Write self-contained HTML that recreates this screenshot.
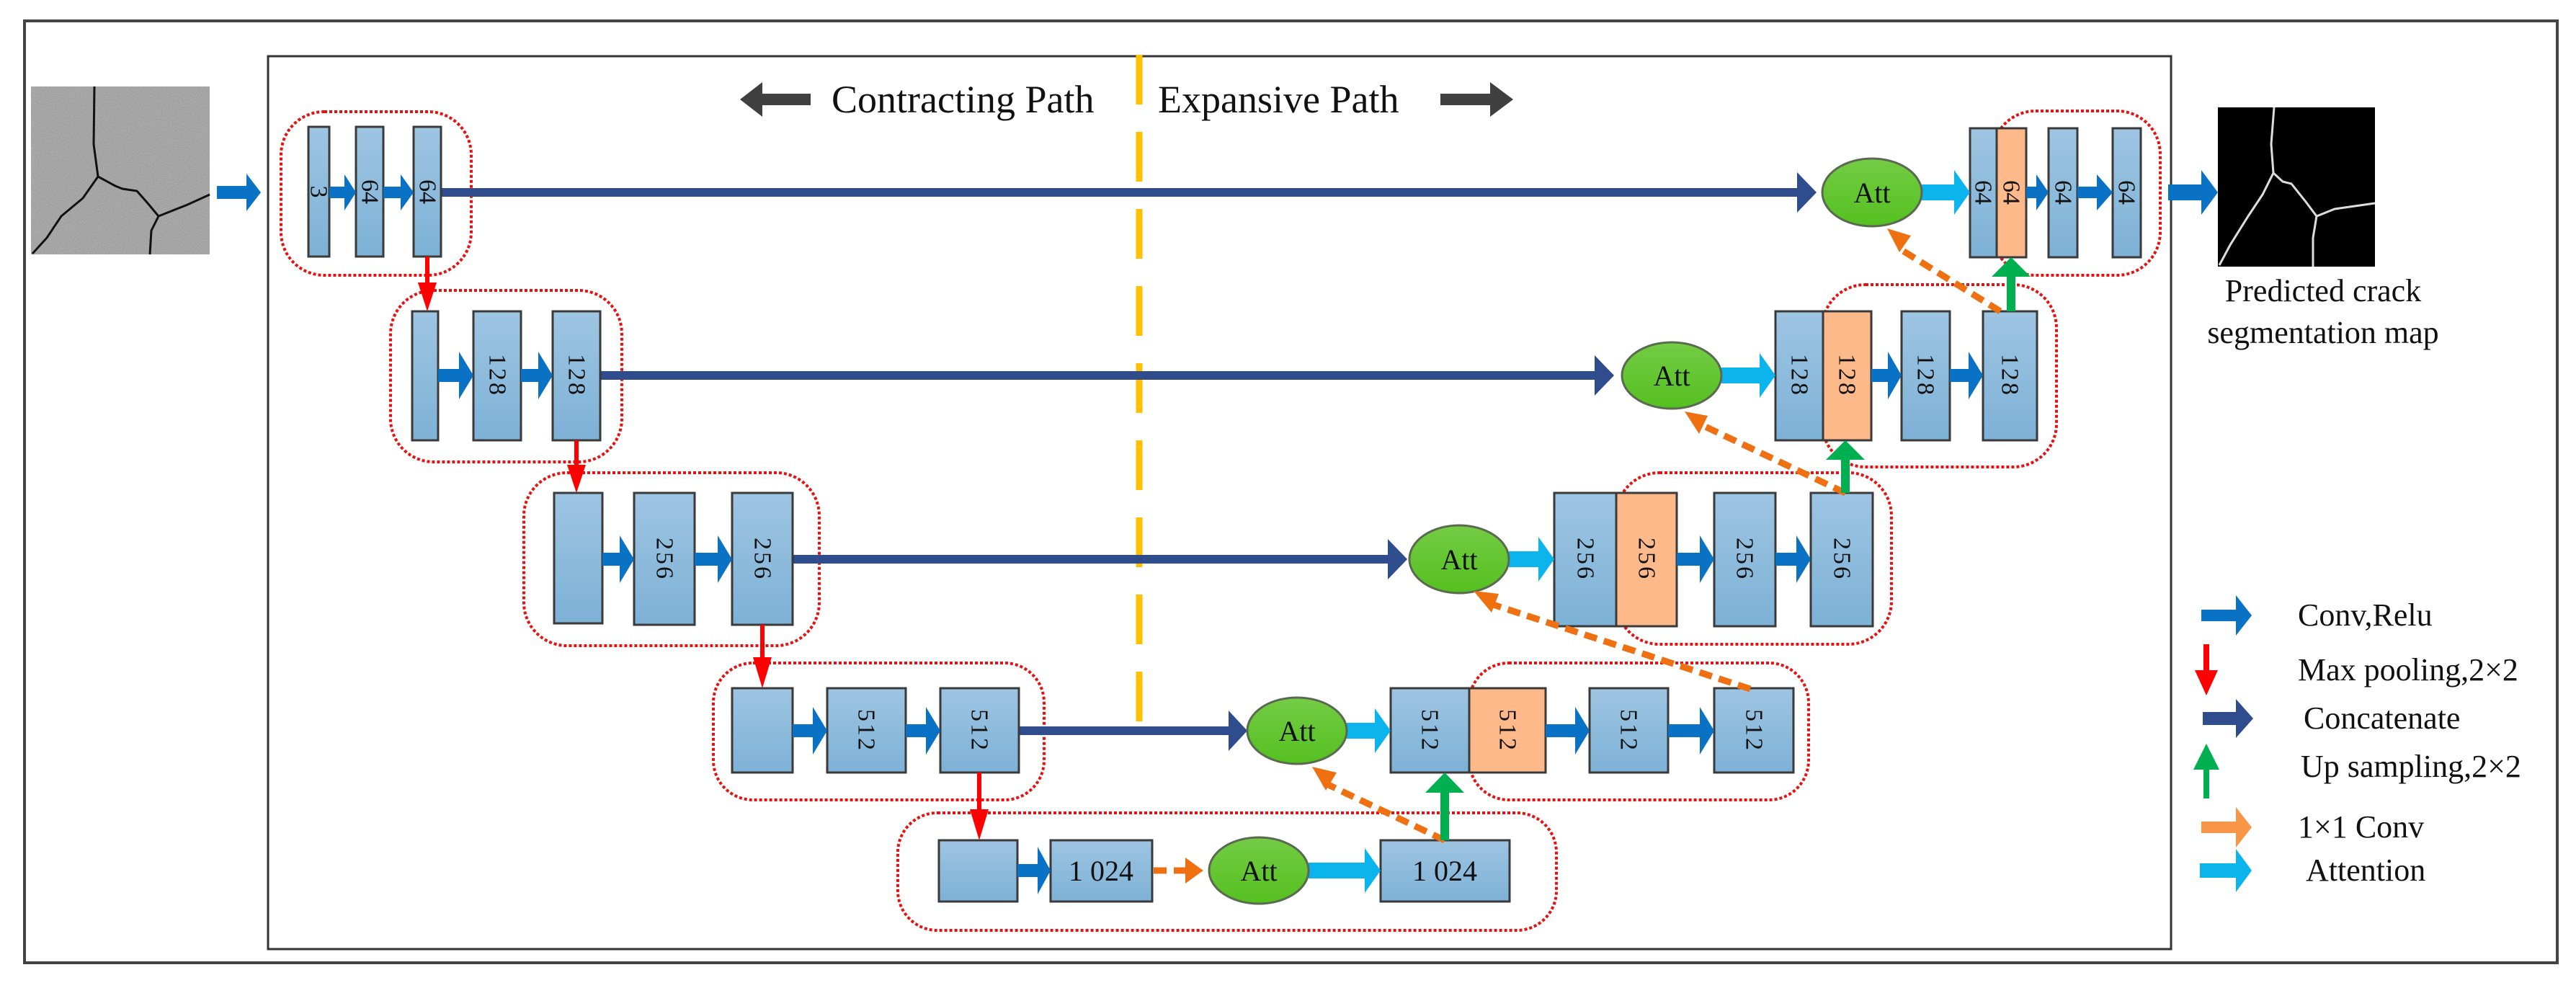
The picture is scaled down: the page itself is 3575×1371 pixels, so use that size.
<!DOCTYPE html>
<html><head><meta charset="utf-8"><style>
html,body{margin:0;padding:0;background:#fff;}
svg{display:block;}
text{font-family:"Liberation Serif",serif;fill:#111;}
</style></head><body>
<svg width="3575" height="1371" viewBox="0 0 3575 1371" xmlns="http://www.w3.org/2000/svg">
<defs>
<linearGradient id="bl" x1="0" y1="0" x2="0" y2="1"><stop offset="0" stop-color="#9EC5E2"/><stop offset="1" stop-color="#7DB1D6"/></linearGradient>
<linearGradient id="gr" x1="0" y1="0" x2="0" y2="1"><stop offset="0" stop-color="#74CC44"/><stop offset="1" stop-color="#55C020"/></linearGradient>
<filter id="noise" x="0" y="0" width="1" height="1"><feTurbulence type="fractalNoise" baseFrequency="0.9" numOctaves="2" seed="3"/><feColorMatrix type="matrix" values="0 0 0 0 0.6  0 0 0 0 0.6  0 0 0 0 0.6  0 0 0 0.8 0"/></filter>
</defs>
<!-- frames -->
<rect x="34" y="29" width="3515" height="1307" fill="#fff" stroke="#444" stroke-width="4"/>
<rect x="372" y="78" width="2641" height="1239" fill="#fff" stroke="#333" stroke-width="3"/>

<!-- input crack image -->
<rect x="43" y="120" width="248" height="233" fill="#8c8c8c"/>
<rect x="43" y="120" width="248" height="233" fill="#000" filter="url(#noise)"/>
<path d="M131,120 L130,200 L136,245 L160,258 L170,262 L190,265 L205,282 L220,300 L245,290 L258,285 L291,270 M136,245 L115,275 L85,300 L65,330 L45,352 M220,300 L210,320 L208,353" stroke="#111" stroke-width="3" fill="none"/>
<!-- output map -->
<rect x="3078" y="149" width="218" height="221" fill="#000"/>
<path d="M3156,149 L3152,200 L3155,240 L3168,252 L3180,255 L3200,280 L3215,300 L3240,290 L3296,282 M3155,240 L3140,270 L3120,300 L3095,340 L3080,368 M3215,300 L3210,330 L3210,370" stroke="#ddd" stroke-width="3" fill="none"/>
<text x="3224" y="418" font-size="44" text-anchor="middle">Predicted crack</text>
<text x="3224" y="476" font-size="44" text-anchor="middle">segmentation map</text>

<!-- title -->
<polygon points="1125,130 1058,130 1058,114 1027,138 1058,162 1058,146 1125,146" fill="#404040"/>
<text x="1154" y="156" font-size="54">Contracting Path</text>
<text x="1607" y="156" font-size="54">Expansive Path</text>
<polygon points="1999,130 2068,130 2068,114 2100,138 2068,162 2068,146 1999,146" fill="#404040"/>

<!-- yellow dashed -->
<line x1="1581" y1="76" x2="1581" y2="1010" stroke="#FFC000" stroke-width="9" stroke-dasharray="69 38"/>

<!-- red dotted groups -->
<g fill="none" stroke="#E81010" stroke-width="4" stroke-dasharray="4 3">
<rect x="390" y="155" width="264" height="227" rx="60"/>
<rect x="542" y="403" width="321" height="238" rx="60"/>
<rect x="727" y="656" width="410" height="240" rx="60"/>
<rect x="990" y="920" width="459" height="190" rx="55"/>
<rect x="1246" y="1128" width="914" height="163" rx="55"/>
<rect x="2765" y="154" width="233" height="228" rx="60"/>
<rect x="2529" y="395" width="325" height="253" rx="60"/>
<rect x="2243" y="656" width="382" height="238" rx="60"/>
<rect x="2039" y="920" width="471" height="190" rx="55"/>
</g>

<!-- concat lines -->
<g fill="#2F4C8C">
<rect x="612" y="261" width="1886" height="12"/><polygon points="2494,239 2521,267 2494,295"/>
<rect x="833" y="515" width="1384" height="12"/><polygon points="2213,493 2240,521 2213,549"/>
<rect x="1100" y="770" width="830" height="12"/><polygon points="1926,748 1953,776 1926,804"/>
<rect x="1414" y="1008" width="295" height="12"/><polygon points="1705,986 1731,1014 1705,1042"/>
</g>

<!-- boxes -->
<g stroke="#3a3a3a" stroke-width="3">
<rect x="428" y="176" width="29" height="180" fill="url(#bl)"/>
<rect x="494" y="176" width="38" height="180" fill="url(#bl)"/>
<rect x="574" y="176" width="38" height="180" fill="url(#bl)"/>
<rect x="2734" y="178" width="37" height="179" fill="url(#bl)"/>
<rect x="2771" y="178" width="41" height="179" fill="#FDB98A"/>
<rect x="2843" y="178" width="40" height="179" fill="url(#bl)"/>
<rect x="2932" y="178" width="39" height="179" fill="url(#bl)"/>

<rect x="572" y="432" width="36" height="179" fill="url(#bl)"/>
<rect x="657" y="432" width="66" height="179" fill="url(#bl)"/>
<rect x="767" y="432" width="66" height="179" fill="url(#bl)"/>
<rect x="2464" y="432" width="66" height="179" fill="url(#bl)"/>
<rect x="2530" y="432" width="67" height="179" fill="#FDB98A"/>
<rect x="2639" y="432" width="67" height="179" fill="url(#bl)"/>
<rect x="2752" y="432" width="75" height="179" fill="url(#bl)"/>

<rect x="769" y="684" width="67" height="181" fill="url(#bl)"/>
<rect x="880" y="684" width="84" height="183" fill="url(#bl)"/>
<rect x="1016" y="684" width="84" height="183" fill="url(#bl)"/>
<rect x="2157" y="684" width="86" height="185" fill="url(#bl)"/>
<rect x="2243" y="684" width="84" height="185" fill="#FDB98A"/>
<rect x="2379" y="684" width="85" height="185" fill="url(#bl)"/>
<rect x="2513" y="684" width="86" height="185" fill="url(#bl)"/>

<rect x="1016" y="955" width="84" height="117" fill="url(#bl)"/>
<rect x="1148" y="955" width="109" height="117" fill="url(#bl)"/>
<rect x="1305" y="955" width="109" height="117" fill="url(#bl)"/>
<rect x="1930" y="955" width="109" height="117" fill="url(#bl)"/>
<rect x="2039" y="955" width="106" height="117" fill="#FDB98A"/>
<rect x="2206" y="955" width="109" height="117" fill="url(#bl)"/>
<rect x="2379" y="955" width="110" height="117" fill="url(#bl)"/>

<rect x="1303" y="1166" width="109" height="85" fill="url(#bl)"/>
<rect x="1458" y="1166" width="141" height="85" fill="url(#bl)"/>
<rect x="1916" y="1166" width="179" height="85" fill="url(#bl)"/>
</g>

<!-- rotated labels -->
<g font-size="34">
<text transform="translate(442,266) rotate(90)" text-anchor="middle" dominant-baseline="central">3</text>
<text transform="translate(513,266) rotate(90)" text-anchor="middle" dominant-baseline="central">64</text>
<text transform="translate(593,266) rotate(90)" text-anchor="middle" dominant-baseline="central">64</text>
<text transform="translate(2752,267) rotate(90)" text-anchor="middle" dominant-baseline="central">64</text>
<text transform="translate(2791,267) rotate(90)" text-anchor="middle" dominant-baseline="central">64</text>
<text transform="translate(2863,267) rotate(90)" text-anchor="middle" dominant-baseline="central">64</text>
<text transform="translate(2951,267) rotate(90)" text-anchor="middle" dominant-baseline="central">64</text>
<g letter-spacing="3">
<text transform="translate(690,521) rotate(90)" text-anchor="middle" dominant-baseline="central">128</text>
<text transform="translate(800,521) rotate(90)" text-anchor="middle" dominant-baseline="central">128</text>
<text transform="translate(2497,521) rotate(90)" text-anchor="middle" dominant-baseline="central">128</text>
<text transform="translate(2563,521) rotate(90)" text-anchor="middle" dominant-baseline="central">128</text>
<text transform="translate(2672,521) rotate(90)" text-anchor="middle" dominant-baseline="central">128</text>
<text transform="translate(2789,521) rotate(90)" text-anchor="middle" dominant-baseline="central">128</text>
<text transform="translate(922,776) rotate(90)" text-anchor="middle" dominant-baseline="central">256</text>
<text transform="translate(1058,776) rotate(90)" text-anchor="middle" dominant-baseline="central">256</text>
<text transform="translate(2200,776) rotate(90)" text-anchor="middle" dominant-baseline="central">256</text>
<text transform="translate(2285,776) rotate(90)" text-anchor="middle" dominant-baseline="central">256</text>
<text transform="translate(2421,776) rotate(90)" text-anchor="middle" dominant-baseline="central">256</text>
<text transform="translate(2556,776) rotate(90)" text-anchor="middle" dominant-baseline="central">256</text>
<text transform="translate(1202,1014) rotate(90)" text-anchor="middle" dominant-baseline="central">512</text>
<text transform="translate(1359,1014) rotate(90)" text-anchor="middle" dominant-baseline="central">512</text>
<text transform="translate(1984,1014) rotate(90)" text-anchor="middle" dominant-baseline="central">512</text>
<text transform="translate(2092,1014) rotate(90)" text-anchor="middle" dominant-baseline="central">512</text>
<text transform="translate(2260,1014) rotate(90)" text-anchor="middle" dominant-baseline="central">512</text>
<text transform="translate(2434,1014) rotate(90)" text-anchor="middle" dominant-baseline="central">512</text>
</g>
<text x="1528" y="1222" font-size="40" text-anchor="middle">1 024</text>
<text x="2005" y="1222" font-size="40" text-anchor="middle">1 024</text>
</g>

<!-- conv arrows -->
<g fill="#0A72C4">
<polygon points="301,258 342,258 342,241 362,267 342,293 342,276 301,276"/>
<polygon points="457,259 478,259 478,242 494,267 478,292 478,275 457,275"/>
<polygon points="532,259 556,259 556,242 574,267 556,292 556,275 532,275"/>
<polygon points="2812,259 2826,259 2826,242 2843,267 2826,292 2826,275 2812,275"/>
<polygon points="2883,259 2910,259 2910,242 2932,267 2910,292 2910,275 2883,275"/>
<polygon points="3009,256 3055,256 3055,236 3078,267 3055,298 3055,278 3009,278"/>
<polygon points="608,512 637,512 637,488 657,521 637,554 637,530 608,530"/>
<polygon points="723,512 747,512 747,488 767,521 747,554 747,530 723,530"/>
<polygon points="2597,512 2620,512 2620,488 2639,521 2620,554 2620,530 2597,530"/>
<polygon points="2706,512 2732,512 2732,488 2752,521 2732,554 2732,530 2706,530"/>
<polygon points="836,767 860,767 860,743 880,776 860,809 860,785 836,785"/>
<polygon points="964,767 996,767 996,743 1016,776 996,809 996,785 964,785"/>
<polygon points="2327,767 2359,767 2359,743 2379,776 2359,809 2359,785 2327,785"/>
<polygon points="2464,767 2493,767 2493,743 2513,776 2493,809 2493,785 2464,785"/>
<polygon points="1100,1005 1128,1005 1128,981 1148,1014 1128,1047 1128,1023 1100,1023"/>
<polygon points="1257,1005 1285,1005 1285,981 1305,1014 1285,1047 1285,1023 1257,1023"/>
<polygon points="2145,1005 2186,1005 2186,981 2206,1014 2186,1047 2186,1023 2145,1023"/>
<polygon points="2315,1005 2359,1005 2359,981 2379,1014 2359,1047 2359,1023 2315,1023"/>
<polygon points="1412,1199 1440,1199 1440,1175 1458,1208 1440,1241 1440,1217 1412,1217"/>
</g>

<!-- attention arrows -->
<g fill="#0CB4EE">
<polygon points="2667,256 2712,256 2712,236 2734,267 2712,298 2712,278 2667,278"/>
<polygon points="2389,510 2442,510 2442,490 2464,521 2442,552 2442,532 2389,532"/>
<polygon points="2094,765 2135,765 2135,745 2157,776 2135,807 2135,787 2094,787"/>
<polygon points="1869,1003 1908,1003 1908,983 1930,1014 1908,1045 1908,1025 1869,1025"/>
<polygon points="1816,1197 1894,1197 1894,1177 1916,1208 1894,1239 1894,1219 1816,1219"/>
</g>

<!-- Att ellipses -->
<g stroke="#5a6a50" stroke-width="3" fill="url(#gr)">
<ellipse cx="2598" cy="267" rx="69" ry="47"/>
<ellipse cx="2320" cy="521" rx="69" ry="46"/>
<ellipse cx="2025" cy="776" rx="69" ry="47"/>
<ellipse cx="1800" cy="1014" rx="69" ry="46"/>
<ellipse cx="1747" cy="1208" rx="69" ry="46"/>
</g>
<g font-size="40" text-anchor="middle">
<text x="2598" y="281">Att</text><text x="2320" y="535">Att</text><text x="2025" y="790">Att</text><text x="1800" y="1028">Att</text><text x="1747" y="1222">Att</text>
</g>

<!-- orange dashed -->
<g stroke="#EE7010" stroke-width="9" stroke-dasharray="18 10" fill="none">
<line x1="2776" y1="432" x2="2636" y2="345"/>
<line x1="2561" y1="684" x2="2356" y2="587"/>
<line x1="2429" y1="956" x2="2063" y2="836"/>
<line x1="2005" y1="1166" x2="1835" y2="1085"/>
<line x1="1601" y1="1208" x2="1645" y2="1208"/>
</g>
<g fill="#EE7010">
<polygon points="2619,317 2652,327 2636,350"/>
<polygon points="2338,571 2370,577 2358,602"/>
<polygon points="2045,820 2080,824 2070,850"/>
<polygon points="1821,1064 1855,1072 1840,1097"/>
<polygon points="1645,1190 1670,1208 1645,1226"/>
</g>

<!-- green up arrows -->
<g fill="#00B050">
<polygon points="2785,432 2785,384 2764,384 2791,357 2818,384 2797,384 2797,432"/>
<polygon points="2555,684 2555,638 2534,638 2561,611 2588,638 2567,638 2567,684"/>
<polygon points="1999,1166 1999,1100 1978,1100 2005,1072 2032,1100 2011,1100 2011,1166"/>
</g>

<!-- red down arrows -->
<g fill="#FF0000">
<polygon points="590,356 590,392 580,392 593,432 606,392 596,392 596,356"/>
<polygon points="797,611 797,645 787,645 800,684 813,645 803,645 803,611"/>
<polygon points="1055,867 1055,912 1045,912 1058,955 1071,912 1061,912 1061,867"/>
<polygon points="1356,1072 1356,1123 1346,1123 1359,1166 1372,1123 1362,1123 1362,1072"/>
</g>

<!-- legend -->
<polygon points="3055,846 3103,846 3103,826 3125,854 3103,882 3103,862 3055,862" fill="#0A72C4"/>
<polygon points="3058,894 3058,930 3046,930 3062,965 3078,930 3066,930 3066,894" fill="#FF0000"/>
<polygon points="3057,988 3103,988 3103,970 3127,997 3103,1024 3103,1006 3057,1006" fill="#2F4C8C"/>
<polygon points="3058,1108 3058,1068 3044,1068 3062,1032 3080,1068 3066,1068 3066,1108" fill="#00B050"/>
<polygon points="3055,1140 3103,1140 3103,1120 3125,1148 3103,1176 3103,1156 3055,1156" fill="#F79646"/>
<polygon points="3053,1198 3103,1198 3103,1178 3125,1208 3103,1238 3103,1218 3053,1218" fill="#0CB4EE"/>
<g font-size="44">
<text x="3189" y="868">Conv,Relu</text>
<text x="3189" y="944">Max pooling,2×2</text>
<text x="3197" y="1011">Concatenate</text>
<text x="3193" y="1078">Up sampling,2×2</text>
<text x="3189" y="1162">1×1 Conv</text>
<text x="3200" y="1222">Attention</text>
</g>
</svg>
</body></html>
